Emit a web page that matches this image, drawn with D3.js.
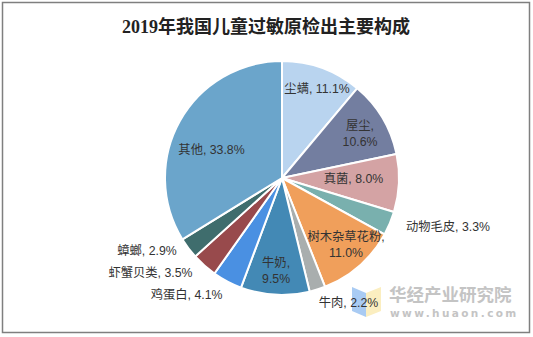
<!DOCTYPE html>
<html><head><meta charset="utf-8">
<script src="https://cdn.jsdelivr.net/npm/d3@7"></script>
<style>body{margin:0;background:#fff}svg{display:block}</style>
</head><body><svg id="c" width="533" height="337"></svg>
<script>
const categories = ["尘螨","屋尘","真菌","动物毛皮","树木杂草花粉","牛肉","牛奶","鸡蛋白","虾蟹贝类","蟑螂","其他"];
const values = [11.1,10.6,8.0,3.3,11.0,2.2,9.5,4.1,3.5,2.9,33.8];
const colors = ["#b9d4ef","#737ea0","#d4a3a4","#79b0ae","#f09f5b","#a9aeae","#4389b5","#4a90e2","#984a4c","#3f6d6d","#6ba5cb"];
// label layout: [radius px, angle deg], and whether split into two lines
const labelPolar = [[95.6,21.5],[89.8,60.3],[71.5,90.8],[173,106.4],[92,135.9],[141.6,152],[92.2,183.7],[151,219.2],[162.2,234.2],[153.5,241.6],[75.9,291.7]];
const twoLine = [false,true,false,false,true,false,true,false,false,false,false];

const svg = d3.select("#c");
svg.append("rect").attr("x",2.5).attr("y",2.5).attr("width",527).attr("height",330)
  .attr("fill","#fff").attr("stroke","#7f7f7f").attr("stroke-width",1.5);

svg.append("text").attr("x",266).attr("y",33).attr("text-anchor","middle")
  .attr("font-family","'Liberation Serif','Noto Sans CJK SC'").attr("font-weight","bold")
  .attr("font-size",18).attr("fill","#222").text("2019年我国儿童过敏原检出主要构成");

// watermark
const wm = svg.append("g");
wm.append("path").attr("d","M352,287 L366,293 L366,317 L352,311 Z").attr("fill","#a9cbf3");
wm.append("path").attr("d","M381,287 L366,293 L366,317 L381,311 Z").attr("fill","#fbeec0");
wm.append("text").attr("x",389).attr("y",301).attr("font-family","'Noto Sans CJK SC'").attr("font-weight","bold")
  .attr("font-size",17.5).attr("fill","#c4c4c4").text("华经产业研究院");
wm.append("text").attr("x",390).attr("y",317).attr("font-family","'DejaVu Sans'").attr("font-weight","bold")
  .attr("font-size",10.5).attr("letter-spacing",2.4).attr("fill","#c4c4c4").text("www.huaon.com");

const cx = 282, cy = 178, R = 117;
const g = svg.append("g").attr("transform",`translate(${cx},${cy})`);
const pie = d3.pie().sort(null).value(d=>d)(values);
const arc = d3.arc().innerRadius(0).outerRadius(R);
g.selectAll("path").data(pie).join("path").attr("d",arc)
  .attr("fill",(d,i)=>colors[i]).attr("stroke","#fff").attr("stroke-width",2).attr("stroke-linejoin","round");

const fmt = v => v.toFixed(1)+"%";
const lg = g.append("g").attr("font-family","'Liberation Sans','Noto Sans CJK SC',Arial").attr("font-size",12.3).attr("fill","#333");
categories.forEach((c,i)=>{
  const [r,deg] = labelPolar[i];
  const a = deg*Math.PI/180;
  const x = r*Math.sin(a), y = -r*Math.cos(a);
  const t = lg.append("text").attr("text-anchor","middle").attr("x",x).attr("y",y);
  if (twoLine[i]) {
    t.append("tspan").attr("x",x).attr("dy","-0.25em").text(c+",");
    t.append("tspan").attr("x",x).attr("dy","1.3em").text(fmt(values[i]));
  } else {
    t.attr("dy","0.35em").text(c+", "+fmt(values[i]));
  }
});
</script></body></html>
